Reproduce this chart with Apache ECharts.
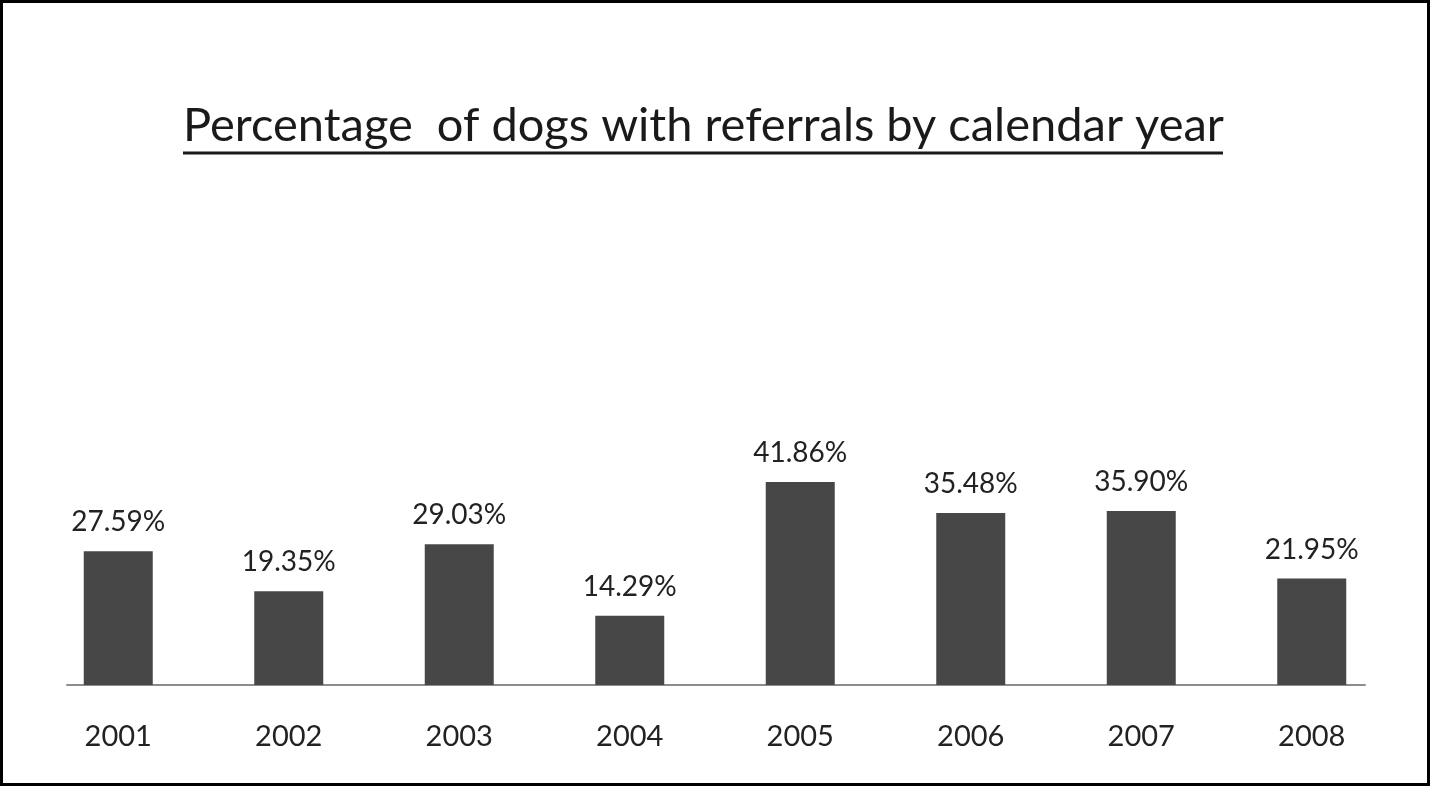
<!DOCTYPE html>
<html><head><meta charset="utf-8">
<script src="https://cdn.jsdelivr.net/npm/echarts@6/dist/echarts.min.js"></script>
<style>html,body{margin:0;padding:0;background:#fff}#c{width:1431px;height:787px}</style>
</head><body><div id="c"></div>
<script>
var titleText = 'Percentage  of dogs with referrals by calendar year';
var categories = ['2001','2002','2003','2004','2005','2006','2007','2008'];
var values = [27.59, 19.35, 29.03, 14.29, 41.86, 35.48, 35.90, 21.95];
var valueLabels = ['27.59%','19.35%','29.03%','14.29%','41.86%','35.48%','35.90%','21.95%'];

var FONT = 'Lato, "Liberation Sans", sans-serif';
var titleSize = 47;
var chart = echarts.init(document.getElementById('c'), null, {renderer:'canvas'});

var cv = document.createElement('canvas').getContext('2d');
cv.font = titleSize + 'px ' + FONT;
var tw = cv.measureText(titleText).width;
var cx = 703;

chart.setOption({
  animation:false,
  backgroundColor:'#fff',
  title:{text:titleText,left:Math.round(cx - tw/2),top:102,padding:0,textStyle:{fontFamily:FONT,fontSize:titleSize,fontWeight:'normal',color:'#1a1a1a'}},
  grid:[
    {left:33,right:34,top:200,bottom:102},
    {left:67,right:66,top:200,bottom:102}
  ],
  xAxis:[
    {type:'category',gridIndex:0,data:categories,axisLine:{show:false},axisTick:{show:false},
     axisLabel:{margin:37,fontFamily:FONT,fontSize:29,color:'#222'}},
    {type:'category',gridIndex:1,data:[''],axisLine:{show:true,lineStyle:{color:'#8c8c8c',width:2}},axisTick:{show:false},axisLabel:{show:false}}
  ],
  yAxis:[
    {type:'value',gridIndex:0,min:0,max:100,show:false},
    {type:'value',gridIndex:1,min:0,max:100,show:false}
  ],
  series:[{
    type:'bar',xAxisIndex:0,yAxisIndex:0,data:values,barWidth:69,
    itemStyle:{color:'#474747'},
    label:{show:true,position:'top',distance:15,fontFamily:FONT,fontSize:28,color:'#222',
      formatter:function(p){return valueLabels[p.dataIndex];}}
  }],
  graphic:[
    {type:'rect',shape:{x:1.5,y:1.5,width:1427,height:783},style:{fill:null,stroke:'#000',lineWidth:3},silent:true},
    {type:'line',shape:{x1:Math.round(cx-tw/2),y1:153,x2:Math.round(cx+tw/2),y2:153},style:{stroke:'#1a1a1a',lineWidth:3},silent:true}
  ]
});
</script></body></html>
